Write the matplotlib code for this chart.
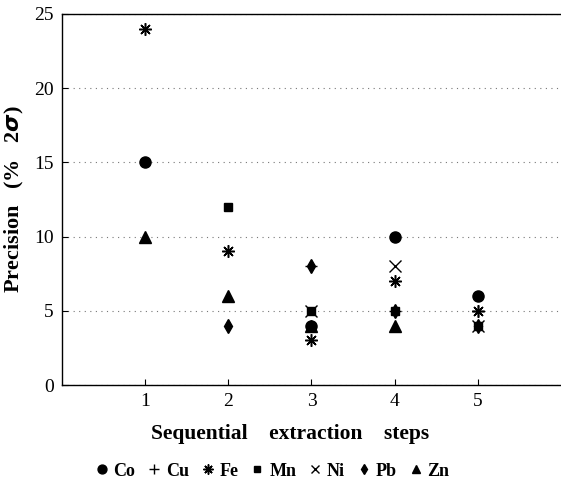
import numpy as np
import matplotlib

matplotlib.use("Agg")
import matplotlib.pyplot as plt

nan = np.nan
steps = [1, 2, 3, 4, 5]
co = [15, nan, 4, 10, 6]
cu = [nan, nan, 8, 5, 5]
fe = [24, 9, 3, 7, 5]
mn = [nan, 12, 5, 5, 4]
ni = [nan, nan, 5, 8, 4]
pb = [nan, 4, 8, 5, 4]
zn = [10, 6, 4, 4, nan]

series = [
    ("Co", co, "o", 8, 1.0),
    ("Cu", cu, "+", 9, 1.0),
    ("Fe", fe, (8, 2, 0), 9, 1.1),
    ("Mn", mn, "s", 6, 1.0),
    ("Ni", ni, "x", 8, 1.0),
    ("Pb", pb, "d", 7, 1.0),
    ("Zn", zn, "^", 8, 1.0),
]

plt.rcParams["font.family"] = ["Liberation Serif", "DejaVu Serif"]

fig = plt.figure(figsize=(5.61, 4.87), dpi=100)
ax = fig.add_axes([0.1105, 0.2094, 0.8895, 0.7619])

for name, vals, mk, ms, mew in series:
    ax.plot(steps, vals, ls="none", marker=mk, ms=ms, mew=mew,
            color="black", label=name)

ax.set_xlim(0, 6)
ax.set_ylim(0, 25)
ax.set_xticks(steps)
ax.set_yticks([0, 5, 10, 15, 20, 25])
ax.tick_params(direction="in", length=4, width=0.8, labelsize=14, pad=6)
ax.grid(axis="y", ls=(0, (1, 4)), color="#777", lw=0.8)
ax.set_axisbelow(True)
ax.spines["right"].set_visible(False)
for s in ("left", "bottom", "top"):
    ax.spines[s].set_linewidth(1.0)

ax.set_xlabel("Sequential    extraction    steps", fontsize=15.5,
              fontweight="bold")
ax.xaxis.set_label_coords(0.458, -0.105)
ax.set_ylabel("Precision   (%   2$\\boldsymbol{\\sigma}$)", fontsize=16,
              fontweight="bold", labelpad=6)

fig.legend(loc="lower center", bbox_to_anchor=(0.483, -0.018), ncol=7,
           frameon=False, handletextpad=0.15,
           columnspacing=0.55, handlelength=1.0, markerscale=0.8,
           prop={"weight": "bold", "size": 13})

fig.savefig("out.png", dpi=100)
